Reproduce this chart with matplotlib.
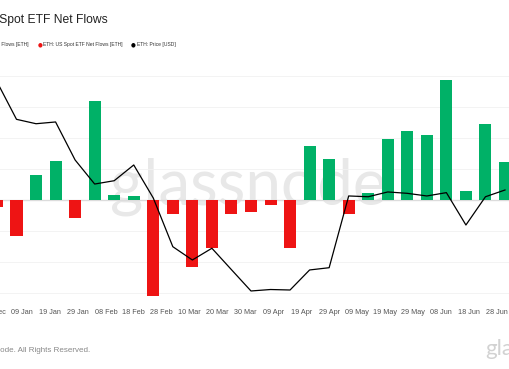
import numpy as np
import pandas as pd
import matplotlib
matplotlib.use("Agg")
import matplotlib.pyplot as plt
import matplotlib.dates as mdates

# weekly ETF net flows (ETH) and ETH price (USD)
weeks = pd.date_range("2024-12-31", periods=27, freq="7D")
flows = [-11500, -58000, 40500, 63000, -29000, 160000, 8000, 6500, -155000,
         -22500, -108000, -77500, -22500, -19500, -8000, -77500, 87000, 66000,
         -22500, 11500, 98500, 111500, 105000, 193500, 14500, 122500, 61500]
price = [3680, 3296, 3251, 3269, 2880, 2634, 2668, 2829, 2491, 1993, 1857,
         1977, 1758, 1540, 1555, 1550, 1755, 1778, 2512, 2504, 2553, 2539,
         2512, 2546, 2215, 2504, 2573]
tick_dates = pd.date_range("2024-12-30", periods=19, freq="10D")

GREEN = "#00b167"
RED = "#ee1414"
FONT = "Liberation Sans"

W, H = 510, 369
fig = plt.figure(figsize=(W / 100, H / 100), dpi=100)

# plot area in pixels (extends past the left edge: the reference is a crop)
left_px, right_px, top_px, bot_px = -40, 510, 60, 297
ax = fig.add_axes([left_px / W, 1 - bot_px / H, (right_px - left_px) / W,
                   (bot_px - top_px) / H])

px_per_day = 19.54 / 7
x0 = mdates.date2num(pd.Timestamp("2025-01-07")) - (16.5 - left_px) / px_per_day
x1 = x0 + (right_px - left_px) / px_per_day
ax.set_xlim(x0, x1)
ax.set_ylim(-(bot_px - 200) / 31 * 50000, (200 - top_px) / 31 * 50000)

# watermark behind the bars
ax.text(248 / W, 1 - 205 / H, "glassnode", fontsize=46, color="#e8e8e8",
        ha="center", va="baseline", family="Lato", transform=fig.transFigure,
        zorder=1)

colors = [GREEN if v >= 0 else RED for v in flows]
ax.bar(weeks, flows, width=4.3, color=colors, zorder=3)
ax.axhline(0, color="#dcdcdc", lw=1.0, zorder=2)

ax.set_yticks(np.arange(-150000, 200001, 50000))
ax.grid(axis="y", color="#f1f1f1", lw=0.6, zorder=0)
ax.tick_params(axis="y", left=False, labelleft=False)
ax.set_xticks(tick_dates)
ax.xaxis.set_major_formatter(mdates.DateFormatter("%d %b"))
ax.tick_params(axis="x", length=0, pad=9, labelsize=5.2, labelcolor="#555555")
for lbl in ax.get_xticklabels():
    lbl.set_family(FONT)
for s in ax.spines.values():
    s.set_visible(False)

ax2 = ax.twinx()
ax2.set_ylim(1550 - 7 * 10.23, 1550 + 230 * 10.23)
ax2.plot(weeks, price, color="black", lw=0.9, zorder=4)
ax2.set_yticks([])
for s in ax2.spines.values():
    s.set_visible(False)

# title and legend (cropped on the left like the reference)
fig.text(108 / W, 1 - 20 / H, "ETH: US Spot ETF Net Flows", fontsize=8.7,
         ha="right", va="center", color="#222222", family=FONT)
legend_kw = dict(fontsize=3.6, va="center", color="#333333", family=FONT)
fig.text(29 / W, 1 - 44.5 / H, "ETH: US Spot ETF Net Flows [ETH]", ha="right", **legend_kw)
fig.text(40 / W, 1 - 44.5 / H, "●", fontsize=4, color=RED, ha="center", va="center")
fig.text(43 / W, 1 - 44.5 / H, "ETH: US Spot ETF Net Flows [ETH]", ha="left", **legend_kw)
fig.text(133 / W, 1 - 44.5 / H, "●", fontsize=4, color="black", ha="center", va="center")
fig.text(137 / W, 1 - 44.5 / H, "ETH: Price [USD]", ha="left", **legend_kw)

# footer
fig.text(90 / W, 1 - 350 / H, "© 2025 Glassnode. All Rights Reserved.", fontsize=5.8,
         ha="right", va="center", color="#888888", family=FONT)
fig.text(485 / W, 1 - 349 / H, "glassnode", fontsize=16, color="#d2d2d2",
         ha="left", va="center", family="Lato")

fig.savefig("out.png", dpi=100)
